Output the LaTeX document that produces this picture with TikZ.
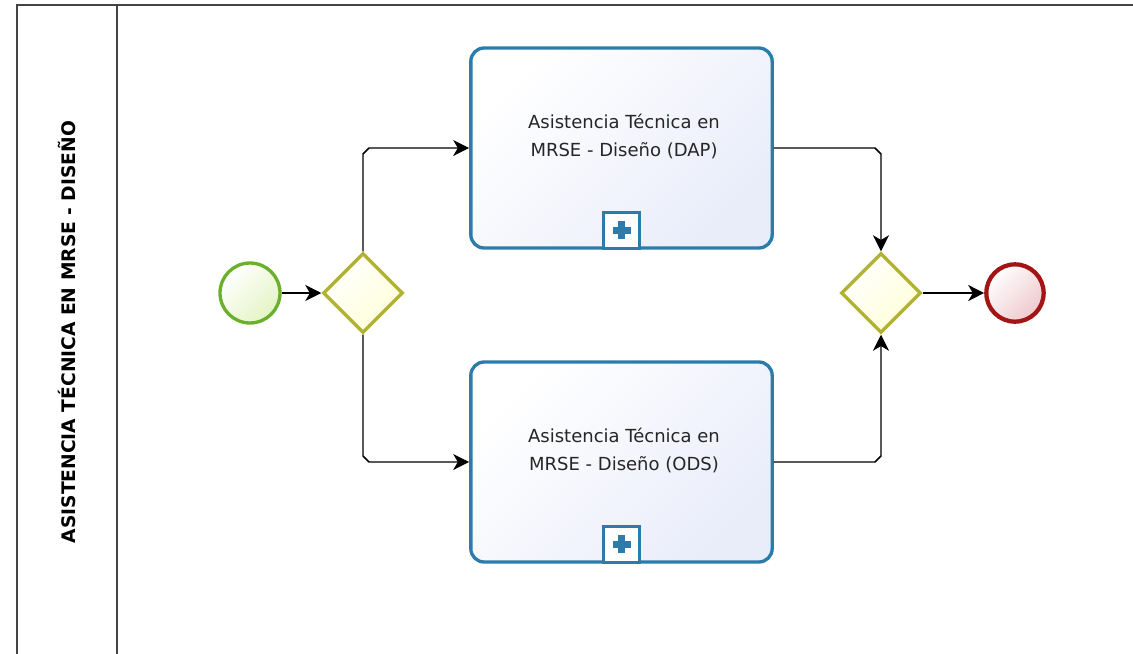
\documentclass[tikz,border=0pt]{standalone}
\usepackage{fontspec}
\setmainfont{DejaVu Sans}
\usetikzlibrary{arrows.meta,shapes.geometric,calc}
\definecolor{taskblue}{HTML}{2B7CAA}
\definecolor{taskfill}{HTML}{E9EDFA}
\definecolor{startgreen}{HTML}{6BB02C}
\definecolor{startfill}{HTML}{E4F4C4}
\definecolor{gwolive}{HTML}{B2B232}
\definecolor{gwfill}{HTML}{FFFFD8}
\definecolor{endred}{HTML}{A31515}
\definecolor{endfill}{HTML}{EEC8CC}
\definecolor{frame}{HTML}{444444}
\tikzset{
  taskbox/.style={draw=taskblue, line width=2.5pt, rounded corners=10pt, top color=white, bottom color=taskfill, shading angle=45, minimum width=226pt, minimum height=150pt, inner sep=0pt},
  gw/.style={diamond, draw=gwolive, line width=2.6pt, top color=white, bottom color=gwfill, shading angle=45, minimum width=60pt, minimum height=60pt, inner sep=0pt, aspect=1},
  startev/.style={circle, draw=startgreen, line width=2.5pt, top color=white, bottom color=startfill, shading angle=45, minimum size=45pt, inner sep=0pt},
  endev/.style={circle, draw=endred, line width=3.2pt, top color=white, bottom color=endfill, shading angle=45, minimum size=43pt, inner sep=0pt},
  flow/.style={draw=black, line width=1.1pt, -{Stealth[length=12pt,width=12pt,inset=3.5pt]}},
  marker/.style={draw=taskblue, line width=2pt, fill=white, minimum size=27pt, inner sep=0pt},
  tasklabel/.style={font=\fontsize{13.5pt}{21pt}\selectfont, align=center, text=black!85},
  lanelabel/.style={font=\bfseries\fontsize{14pt}{16pt}\selectfont, rotate=90}
}
\begin{document}
\begin{tikzpicture}[x=0.75pt,y=-0.75pt]
\useasboundingbox (0,0) rectangle (1133,654);
% frame
\draw[frame, line width=1.6pt] (17,654) -- (17,5) -- (1133,5);
\draw[frame, line width=1.6pt] (117,5) -- (117,654);
\node[lanelabel] (lane) at (67,332) {ASISTENCIA TÉCNICA EN MRSE - DISEÑO};
% nodes
\node[startev] (start) at (250,293) {};
\node[gw] (g1) at (363,293) {};
\node[taskbox] (t1) at (621.5,148) {};
\node[tasklabel] (t1l) at (624,136) {Asistencia Técnica en\\MRSE - Diseño (DAP)};
\node[marker, anchor=south] (m1) at (t1.south) {};
\node[taskbox] (t2) at (621.5,462) {};
\node[tasklabel] (t2l) at (624,450) {Asistencia Técnica en\\MRSE - Diseño (ODS)};
\node[marker, anchor=south] (m2) at (t2.south) {};
\node[gw] (g2) at (881,293) {};
\node[endev] (end) at (1015,293) {};
% plus signs
\foreach \m in {m1,m2}{
  \fill[taskblue] ($(\m.center)+(-9,-3.5)$) rectangle ($(\m.center)+(9,3.5)$);
  \fill[taskblue] ($(\m.center)+(-3.5,-9)$) rectangle ($(\m.center)+(3.5,9)$);
}
% flows
\draw[flow] (start) -- (g1);
\draw[flow] (g1.north) -- ($(g1.north|-t1.west)+(0,6)$) -- ($(g1.north|-t1.west)+(6,0)$) -- (t1.west);
\draw[flow] (g1.south) -- ($(g1.south|-t2.west)+(0,-6)$) -- ($(g1.south|-t2.west)+(6,0)$) -- (t2.west);
\draw[flow] (t1.east) -- ($(g2.north|-t1.east)+(-6,0)$) -- ($(g2.north|-t1.east)+(0,6)$) -- (g2.north);
\draw[flow] (t2.east) -- ($(g2.south|-t2.east)+(-6,0)$) -- ($(g2.south|-t2.east)+(0,-6)$) -- (g2.south);
\draw[flow] (g2) -- (end);
\end{tikzpicture}
\end{document}
